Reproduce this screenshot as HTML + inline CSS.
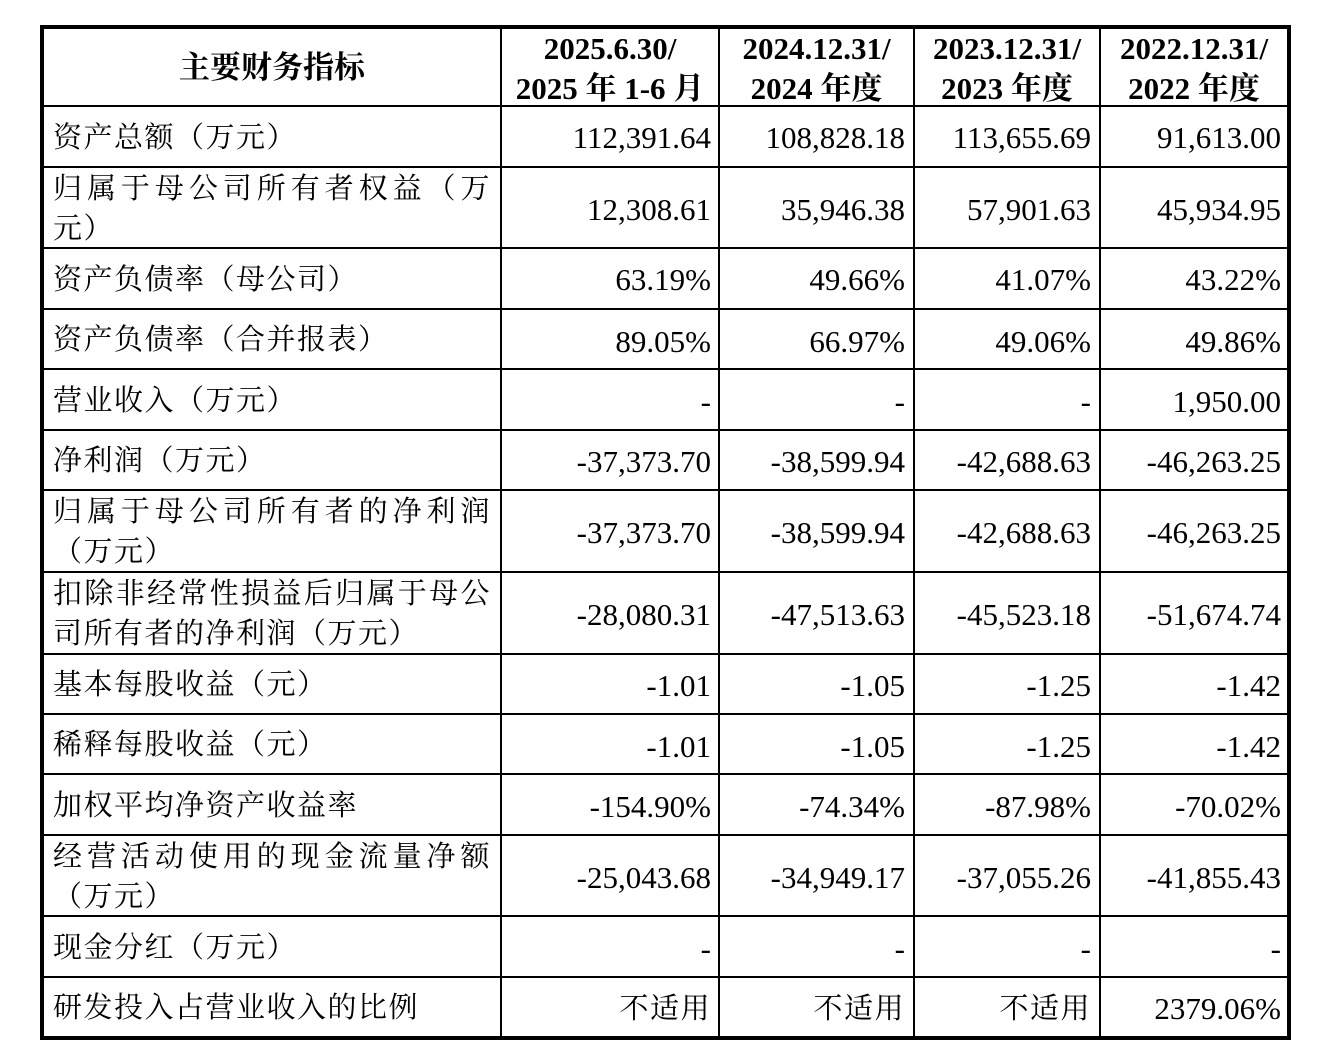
<!DOCTYPE html>
<html><head><meta charset="utf-8"><style>
body{margin:0;background:#fff;width:1336px;height:1062px;position:relative;overflow:hidden;font-family:"Liberation Serif","Noto Serif CJK SC",serif;color:#000}
.h{position:absolute;background:#000;height:2px;left:40px;width:1251px}
.v{position:absolute;background:#000;width:2px;top:25px;height:1015px}
.t{position:absolute;font-size:29px;line-height:40px;white-space:nowrap;letter-spacing:1.5px}
.n{position:absolute;font-size:31px;line-height:40px;white-space:nowrap;text-align:right}
.b{font-weight:bold;text-align:center;font-size:31px;letter-spacing:0}
.j{text-align:justify;text-align-last:justify;width:438px}
</style></head><body>
<div style="position:absolute;left:40px;top:25px;width:1243px;height:1007px;border:4px solid #000"></div>
<div class="v" style="left:500px"></div>
<div class="v" style="left:718px"></div>
<div class="v" style="left:913px"></div>
<div class="v" style="left:1099px"></div>
<div class="h" style="top:105px"></div>
<div class="h" style="top:166px"></div>
<div class="h" style="top:247px"></div>
<div class="h" style="top:308px"></div>
<div class="h" style="top:368px"></div>
<div class="h" style="top:429px"></div>
<div class="h" style="top:489px"></div>
<div class="h" style="top:571px"></div>
<div class="h" style="top:653px"></div>
<div class="h" style="top:713px"></div>
<div class="h" style="top:773px"></div>
<div class="h" style="top:834px"></div>
<div class="h" style="top:915px"></div>
<div class="h" style="top:976px"></div>

<div class="t b" style="left:44px;width:456px;top:48px">主要财务指标</div>
<div class="t b" style="left:502px;width:216px;top:29px">2025.6.30/<br>2025 年 1-6 月</div>
<div class="t b" style="left:720px;width:193px;top:29px">2024.12.31/<br>2024 年度</div>
<div class="t b" style="left:915px;width:184px;top:29px">2023.12.31/<br>2023 年度</div>
<div class="t b" style="left:1101px;width:186px;top:29px">2022.12.31/<br>2022 年度</div>

<div class="t" style="left:53px;top:118px">资产总额（万元）</div>
<div class="t j" style="left:53px;top:169px">归属于母公司所有者权益（万</div>
<div class="t" style="left:53px;top:209px">元）</div>
<div class="t" style="left:53px;top:260px">资产负债率（母公司）</div>
<div class="t" style="left:53px;top:320px">资产负债率（合并报表）</div>
<div class="t" style="left:53px;top:381px">营业收入（万元）</div>
<div class="t" style="left:53px;top:441px">净利润（万元）</div>
<div class="t j" style="left:53px;top:492px">归属于母公司所有者的净利润</div>
<div class="t" style="left:53px;top:532px">（万元）</div>
<div class="t j" style="left:53px;top:574px">扣除非经常性损益后归属于母公</div>
<div class="t" style="left:53px;top:614px">司所有者的净利润（万元）</div>
<div class="t" style="left:53px;top:665px">基本每股收益（元）</div>
<div class="t" style="left:53px;top:725px">稀释每股收益（元）</div>
<div class="t" style="left:53px;top:786px">加权平均净资产收益率</div>
<div class="t j" style="left:53px;top:837px">经营活动使用的现金流量净额</div>
<div class="t" style="left:53px;top:877px">（万元）</div>
<div class="t" style="left:53px;top:928px">现金分红（万元）</div>
<div class="t" style="left:53px;top:988px">研发投入占营业收入的比例</div>

<div id="nums"></div>
<script>
var rows=[[118,"112,391.64","108,828.18","113,655.69","91,613.00"],
[190,"12,308.61","35,946.38","57,901.63","45,934.95"],
[260,"63.19%","49.66%","41.07%","43.22%"],
[322,"89.05%","66.97%","49.06%","49.86%"],
[382,"-","-","-","1,950.00"],
[442,"-37,373.70","-38,599.94","-42,688.63","-46,263.25"],
[513,"-37,373.70","-38,599.94","-42,688.63","-46,263.25"],
[595,"-28,080.31","-47,513.63","-45,523.18","-51,674.74"],
[666,"-1.01","-1.05","-1.25","-1.42"],
[727,"-1.01","-1.05","-1.25","-1.42"],
[787,"-154.90%","-74.34%","-87.98%","-70.02%"],
[858,"-25,043.68","-34,949.17","-37,055.26","-41,855.43"],
[929,"-","-","-","-"],
[989,"不适用","不适用","不适用","2379.06%"]];
var rights=[711,905,1091,1281],h="";
rows.forEach(function(r){for(var i=0;i<4;i++){var s=r[i+1];var st=(s=="不适用")?'font-size:29px;letter-spacing:1.5px;':'';h+='<div class="n" style="'+st+'left:'+(rights[i]-300)+'px;width:300px;top:'+r[0]+'px">'+s+'</div>';}});
document.getElementById("nums").innerHTML=h;
</script>
</body></html>
